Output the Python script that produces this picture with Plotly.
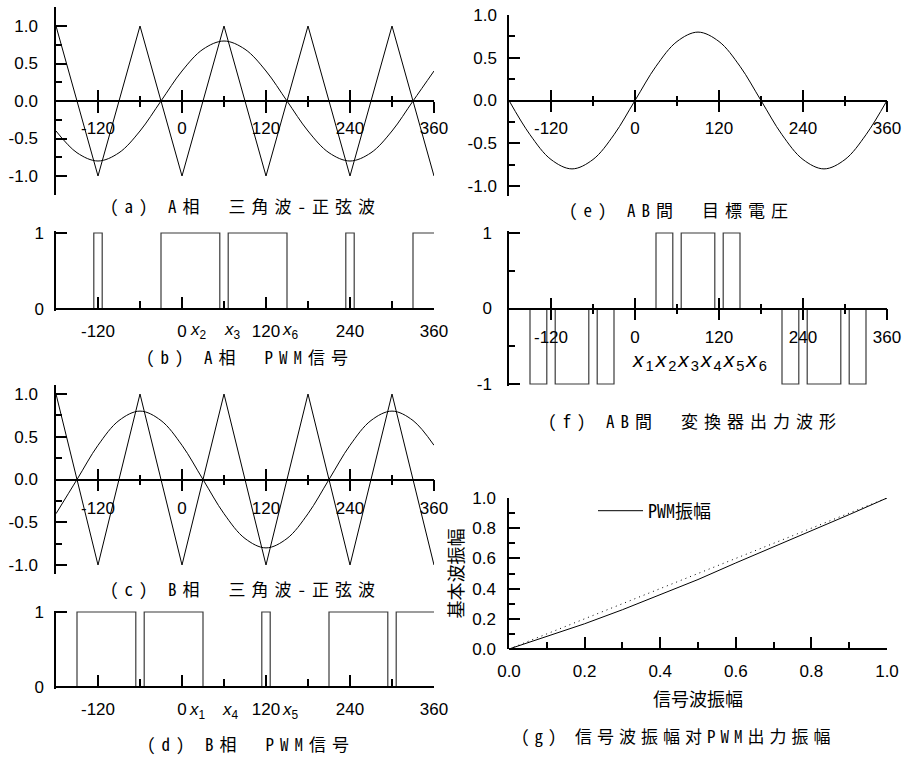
import plotly.graph_objects as go

# ---------------------------------------------------------------- data
# phase angle samples (deg) for the reference sine waves
theta = [-180, -150, -120, -90, -60, -30, 0, 30, 60, 90, 120, 150,
         180, 210, 240, 270, 300, 330, 360]
sine_a = [-0.40, -0.69, -0.80, -0.69, -0.40, 0.00, 0.40, 0.69, 0.80, 0.69,
          0.40, 0.00, -0.40, -0.69, -0.80, -0.69, -0.40, 0.00, 0.40]
sine_b = [-0.40, 0.00, 0.40, 0.69, 0.80, 0.69, 0.40, 0.00, -0.40, -0.69,
          -0.80, -0.69, -0.40, 0.00, 0.40, 0.69, 0.80, 0.69, 0.40]
sine_ab = [0.00, -0.40, -0.69, -0.80, -0.69, -0.40, 0.00, 0.40, 0.69, 0.80,
           0.69, 0.40, 0.00, -0.40, -0.69, -0.80, -0.69, -0.40, 0.00]

# triangular carrier vertices
tri_theta = [-180, -120, -60, 0, 60, 120, 180, 240, 300, 360]
tri_vals = [1, -1, 1, -1, 1, -1, 1, -1, 1, -1]

# PWM switching angles (deg) and the level held after each one
pwm_a_theta = [-180, -126, -114, -30, 54, 66, 150, 234, 246, 330, 360]
pwm_a_level = [0, 1, 0, 1, 0, 1, 0, 1, 0, 1, 1]
pwm_b_theta = [-180, -150, -66, -54, 30, 114, 126, 210, 294, 306, 360]
pwm_b_level = [0, 1, 0, 1, 0, 1, 0, 1, 0, 1, 1]
pwm_ab_theta = [-180, -150, -126, -114, -66, -54, -30, 30, 54, 66, 114, 126,
                150, 210, 234, 246, 294, 306, 330, 360]
pwm_ab_level = [0, -1, 0, -1, 0, -1, 0, 1, 0, 1, 0, 1, 0, -1, 0, -1, 0, -1,
                0, 0]

# signal amplitude vs. fundamental amplitude of the PWM output
sig_amp = [0.0, 0.1, 0.2, 0.3, 0.4, 0.5, 0.6, 0.7, 0.8, 0.9, 1.0]
pwm_fund = [0.0, 0.085, 0.167, 0.26, 0.36, 0.46, 0.57, 0.675, 0.785, 0.89, 1.0]
ideal_amp = [0.0, 1.0]

# tick labels
deg_ticks = [-120, 0, 120, 240, 360]
deg_text = ["-120", "0", "120", "240", "360"]
deg_minor = [-60, 60, 180, 300]
wave_ticks = [-1.0, -0.5, 0.0, 0.5, 1.0]
wave_text = ["-1.0", "-0.5", "0.0", "0.5", "1.0"]
wave_minor = [-1.25, -0.75, -0.25, 0.25, 0.75, 1.25]
bin_ticks = [0, 1]
bin_text = ["0", "1"]
tern_ticks = [-1, 0, 1]
tern_text = ["-1", "0", "1"]
tern_minor = [-0.5, 0.5]
amp_ticks = [0.0, 0.2, 0.4, 0.6, 0.8, 1.0]
amp_text = ["0.0", "0.2", "0.4", "0.6", "0.8", "1.0"]
amp_minor = [0.1, 0.3, 0.5, 0.7, 0.9]

titles = {
    "a": "(a) A相　三角波-正弦波",
    "b": "(b) A相　PWM信号",
    "c": "(c) B相　三角波-正弦波",
    "d": "(d) B相　PWM信号",
    "e": "(e) AB間　目標電圧",
    "f": "(f) AB間　変換器出力波形",
    "g": "(g) 信号波振幅对PWM出力振幅",
}

# ---------------------------------------------------------------- layout helpers
W, H = 904, 757
NUM_FONT = dict(family="Liberation Sans, Arial, sans-serif", size=17, color="black")
CJK = "Noto Sans Mono CJK JP, Noto Sans CJK JP, sans-serif"
LW = 1.5


def px(x):
    return x / W


def py(y):
    return 1 - y / H


def ydomain(p_hi, v_hi, p_lo, v_lo, r_lo, r_hi):
    s = (p_lo - p_hi) / (v_hi - v_lo)
    top = p_hi - (r_hi - v_hi) * s
    bot = p_lo + (v_lo - r_lo) * s
    return [py(bot), py(top)]


def ypos(p_hi, v_hi, p_lo, v_lo, v):
    s = (p_lo - p_hi) / (v_hi - v_lo)
    return py(p_hi + (v_hi - v) * s)


def yaxis(dom, rng, vals, text, minor, xref, standoff):
    return dict(domain=dom, range=rng, anchor=xref, showline=True,
                linecolor="black", linewidth=LW, ticks="inside", ticklen=11,
                tickwidth=LW, tickcolor="black", tickmode="array",
                tickvals=vals, ticktext=text, tickfont=NUM_FONT,
                ticklabelstandoff=standoff, automargin=False,
                minor=dict(tickmode="array", tickvals=minor, ticks="inside",
                           ticklen=6, tickwidth=LW, tickcolor="black"),
                showgrid=False, zeroline=False, fixedrange=True)


def xaxis(dom, rng, pos, ticks, vals, text, minor, minor_len, labels, standoff,
          overlay=None):
    d = dict(domain=dom, range=rng, anchor="free", position=pos,
             showline=overlay is None, linecolor="black", linewidth=LW,
             ticks=ticks, ticklen=11, tickwidth=LW, tickcolor="black",
             tickmode="array", tickvals=vals, ticktext=text,
             showticklabels=labels, tickfont=NUM_FONT, automargin=False,
             minor=dict(tickmode="array", tickvals=minor, ticks=ticks,
                        ticklen=minor_len, tickwidth=LW, tickcolor="black"),
             showgrid=False, zeroline=False, fixedrange=True)
    if labels:
        d["ticklabelstandoff"] = standoff
    if overlay:
        d["overlaying"] = overlay
    return d


LEFT = [px(56), px(434)]
RIGHT = [px(509), px(887)]
DEG = [-180, 360]

fig = go.Figure()
layout = {}

# panel geometry: (pixel of upper value, upper value, pixel of lower value, lower value, range)
geo = {
    "a": (26, 1.0, 176, -1.0, [-1.25, 1.25]),
    "b": (233, 1.0, 309, 0.0, [-0.02, 1.02]),
    "c": (394, 1.0, 565, -1.0, [-1.1, 1.1]),
    "d": (612, 1.0, 687, 0.0, [-0.02, 1.02]),
    "e": (15, 1.0, 186, -1.0, [-1.12, 1.0]),
    "f": (233, 1.0, 384, -1.0, [-1.02, 1.02]),
    "g": (498, 1.0, 649, 0.0, [0.0, 1.0]),
}


def dom(k):
    a, va, b, vb, r = geo[k]
    return ydomain(a, va, b, vb, r[0], r[1])


def zero(k):
    a, va, b, vb, r = geo[k]
    return ypos(a, va, b, vb, 0.0)


# (a) A phase carrier and reference
layout["xaxis"] = xaxis(LEFT, DEG, zero("a"), "outside", deg_ticks, deg_text,
                        deg_minor, 5, True, 1)
layout["xaxis2"] = xaxis(LEFT, DEG, zero("a"), "inside", deg_ticks, deg_text,
                         deg_minor, 5, False, 0, overlay="x")
layout["yaxis"] = yaxis(dom("a"), geo["a"][4], wave_ticks, wave_text,
                        wave_minor, "x", 13)
# (b) A phase PWM
layout["xaxis3"] = xaxis(LEFT, DEG, zero("b"), "inside", deg_ticks, deg_text,
                         deg_minor, 7, True, 7)
layout["yaxis2"] = yaxis(dom("b"), geo["b"][4], bin_ticks, bin_text, [], "x3", 7)
# (c) B phase carrier and reference
layout["xaxis4"] = xaxis(LEFT, DEG, zero("c"), "outside", deg_ticks, deg_text,
                         deg_minor, 5, True, 2)
layout["xaxis5"] = xaxis(LEFT, DEG, zero("c"), "inside", deg_ticks, deg_text,
                         deg_minor, 5, False, 0, overlay="x4")
layout["yaxis3"] = yaxis(dom("c"), geo["c"][4], wave_ticks, wave_text,
                         wave_minor, "x4", 13)
# (d) B phase PWM
layout["xaxis6"] = xaxis(LEFT, DEG, zero("d"), "inside", deg_ticks, deg_text,
                         deg_minor, 7, True, 7)
layout["yaxis4"] = yaxis(dom("d"), geo["d"][4], bin_ticks, bin_text, [], "x6", 7)
# (e) AB target voltage
layout["xaxis7"] = xaxis(RIGHT, DEG, zero("e"), "outside", deg_ticks, deg_text,
                         deg_minor, 5, True, 1)
layout["xaxis8"] = xaxis(RIGHT, DEG, zero("e"), "inside", deg_ticks, deg_text,
                         deg_minor, 5, False, 0, overlay="x7")
layout["yaxis5"] = yaxis(dom("e"), geo["e"][4], wave_ticks, wave_text,
                         wave_minor, "x7", 7)
# (f) AB converter output
layout["xaxis9"] = xaxis(RIGHT, DEG, zero("f"), "outside", deg_ticks, deg_text,
                         deg_minor, 5, True, 2)
layout["xaxis10"] = xaxis(RIGHT, DEG, zero("f"), "inside", deg_ticks, deg_text,
                          deg_minor, 5, False, 0, overlay="x9")
layout["yaxis6"] = yaxis(dom("f"), geo["f"][4], tern_ticks, tern_text,
                         tern_minor, "x9", 12)
# (g) amplitude characteristic
layout["xaxis11"] = xaxis(RIGHT, [0, 1], zero("g"), "inside", amp_ticks,
                          amp_text, amp_minor, 6, True, 7)
layout["xaxis11"]["title"] = dict(text="信号波振幅", font=dict(family=CJK, size=18, color="black"),
                                  standoff=12)
layout["yaxis7"] = yaxis(dom("g"), [0, 1], amp_ticks, amp_text, amp_minor,
                         "x11", 8)
layout["yaxis7"]["title"] = dict(text="基本波振幅", font=dict(family=CJK, size=18, color="black"),
                                 standoff=4)

WAVE = dict(color="black", width=1)
PWM = dict(color="#3a3a3a", width=1.2, shape="hv")


def add(x, y, xa, ya, line, name=None, legend=False):
    fig.add_trace(go.Scatter(x=x, y=y, xaxis=xa, yaxis=ya, mode="lines",
                             line=line, name=name, showlegend=legend,
                             hoverinfo="skip"))


add(tri_theta, tri_vals, "x", "y", WAVE)
add(theta, sine_a, "x", "y", dict(WAVE, shape="spline"))
add([None], [None], "x2", "y", WAVE)
add(pwm_a_theta, pwm_a_level, "x3", "y2", PWM)
add(tri_theta, tri_vals, "x4", "y3", WAVE)
add(theta, sine_b, "x4", "y3", dict(WAVE, shape="spline"))
add([None], [None], "x5", "y3", WAVE)
add(pwm_b_theta, pwm_b_level, "x6", "y4", PWM)
add(theta, sine_ab, "x7", "y5", dict(WAVE, shape="spline"))
add([None], [None], "x8", "y5", WAVE)
add(pwm_ab_theta, pwm_ab_level, "x9", "y6", PWM)
add([None], [None], "x10", "y6", WAVE)
add(ideal_amp, ideal_amp, "x11", "y7", dict(color="black", width=1, dash="1px,4px"))
add(sig_amp, pwm_fund, "x11", "y7", dict(color="black", width=1), name="PWM振幅",
    legend=True)

# panel captions
cap_pos = {"a": (246, 205), "b": (250, 357), "c": (246, 588), "d": (251, 743),
           "e": (681, 210), "f": (695, 420), "g": (678, 735)}
ann = []
for k, (cx, cy) in cap_pos.items():
    sp = 5 if k == "g" else 6
    ann.append(dict(text='<span style="letter-spacing:%dpx">%s</span>' % (sp, titles[k]),
                    x=px(cx), y=py(cy), xref="paper", yref="paper",
                    xanchor="center", yanchor="middle", showarrow=False,
                    font=dict(family=CJK, size=17, color="black")))

# switching-point markers under the PWM panels
XFONT = dict(family="Liberation Sans, Arial, sans-serif", size=17, color="black")
for lbl, lx, ly in [("2", 188, 331), ("3", 222, 331), ("6", 280, 331),
                    ("1", 187, 711), ("4", 220, 711), ("5", 280, 711)]:
    ann.append(dict(text="<i>x</i><sub>%s</sub>" % lbl, x=px(lx), y=py(ly),
                    xref="paper", yref="paper", xanchor="left",
                    yanchor="middle", showarrow=False, font=XFONT))
ann.append(dict(text='<span style="letter-spacing:2px">' +
                "".join("<i>x</i><sub>%d</sub>" % i for i in range(1, 7)) +
                "</span>",
                x=px(630), y=py(361), xref="paper", yref="paper",
                xanchor="left", yanchor="middle", showarrow=False,
                font=dict(family="Liberation Sans, Arial, sans-serif", size=21,
                          color="black")))

fig.update_layout(
    **layout,
    template="none",
    width=W, height=H, autosize=False,
    margin=dict(l=0, r=0, t=0, b=0, autoexpand=False),
    paper_bgcolor="white", plot_bgcolor="white",
    annotations=ann,
    showlegend=True,
    legend=dict(x=px(593), y=py(511), xanchor="left", yanchor="middle",
                bgcolor="rgba(0,0,0,0)", borderwidth=0, itemwidth=45,
                font=dict(family=CJK, size=18, color="black")),
)

fig.write_html("out.html")
